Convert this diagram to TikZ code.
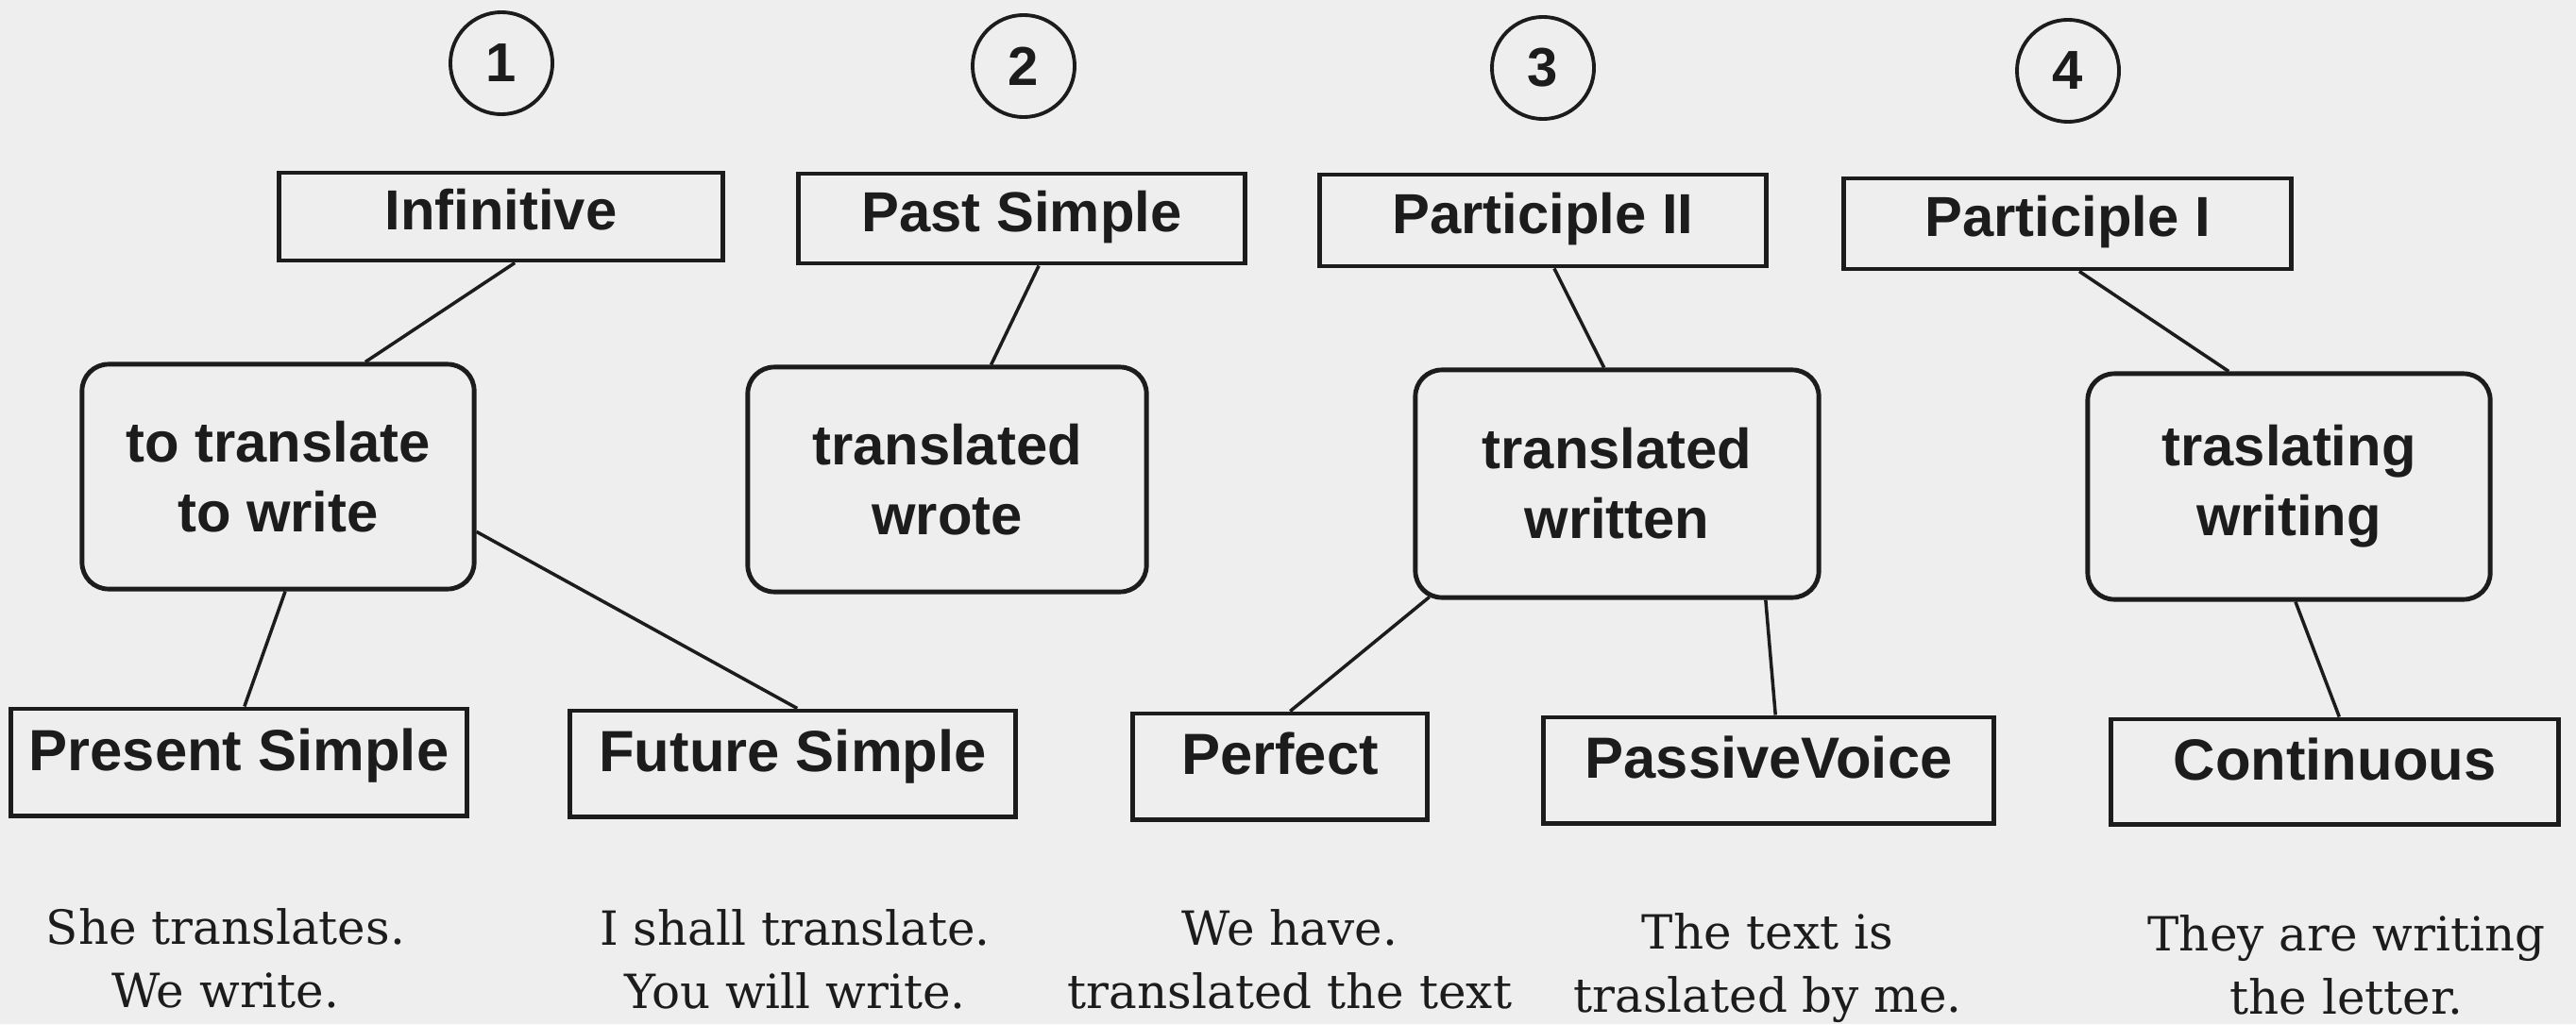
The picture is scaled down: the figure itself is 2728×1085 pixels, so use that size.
\documentclass[tikz,border=0pt]{standalone}
\usepackage{fontspec}
\setsansfont{Liberation Sans}
\newfontfamily\capfont{DejaVu Serif}
\usetikzlibrary{calc}
\definecolor{paper}{HTML}{EEEEEE}
\definecolor{ink}{HTML}{1C1C1C}
\begin{document}
\begin{tikzpicture}[x=0.01cm,y=-0.01cm,
  lab/.style={font=\sffamily\bfseries\fontsize{17}{21}\selectfont, text=ink, inner sep=0pt},
  topbox/.style={lab, draw=ink, line width=1.4pt, rectangle, text height=0.43cm, text depth=0.16cm},
  botbox/.style={lab, font=\sffamily\bfseries\fontsize{17.5}{21}\selectfont, draw=ink, line width=1.4pt, rectangle, text height=0.45cm, text depth=0.28cm},
  midbox/.style={lab, draw=ink, line width=1.4pt, rectangle, rounded corners=0.28cm, align=center},
  numcirc/.style={circle, draw=ink, line width=1.1pt, minimum size=1.08cm, inner sep=0pt, text=ink, font=\sffamily\bfseries\fontsize{16.5}{18}\selectfont},
  conn/.style={draw=ink, line width=1pt},
  captext/.style={font=\capfont\fontsize{14.2}{19}\selectfont, text=ink, align=center, inner sep=0pt, anchor=north}]
\fill[paper] (0,0) rectangle (2728,1085);
\useasboundingbox (0,0) rectangle (2728,1085);

% numbered circles
\node[numcirc] (c1) at (531,67) {1};
\node[numcirc] (c2) at (1084,70) {2};
\node[numcirc] (c3) at (1634,72) {3};
\node[numcirc] (c4) at (2190,75) {4};

% top boxes
\node[topbox, minimum width=4.69cm, minimum height=0.93cm] (inf) at (530.5,229.5) {Infinitive};
\node[topbox, minimum width=4.72cm, minimum height=0.95cm] (past) at (1082,231.5) {Past Simple};
\node[topbox, minimum width=4.72cm, minimum height=0.97cm] (p2) at (1634,233.5) {Participle II};
\node[topbox, minimum width=4.73cm, minimum height=0.96cm] (p1) at (2189.5,237) {Participle I};

% middle boxes
\node[midbox, minimum width=4.15cm, minimum height=2.38cm] (m1) at (294.5,505) {to translate\\to write};
\node[midbox, minimum width=4.22cm, minimum height=2.38cm] (m2) at (1003,508) {translated\\wrote};
\node[midbox, minimum width=4.27cm, minimum height=2.41cm] (m3) at (1712.5,512.5) {translated\\written};
\node[midbox, minimum width=4.26cm, minimum height=2.39cm] (m4) at (2424,515.5) {traslating\\writing};

% bottom boxes
\node[botbox, minimum width=4.82cm, minimum height=1.13cm] (ps) at (253,807.5) {Present Simple};
\node[botbox, minimum width=4.71cm, minimum height=1.12cm] (fs) at (839.5,809) {Future Simple};
\node[botbox, minimum width=3.11cm, minimum height=1.12cm] (pf) at (1355.5,812) {Perfect};
\node[botbox, minimum width=4.76cm, minimum height=1.12cm] (pv) at (1873,816) {PassiveVoice};
\node[botbox, minimum width=4.73cm, minimum height=1.11cm] (co) at (2472.5,817.5) {Continuous};

% connectors
\draw[conn] ($(inf.south west)!0.531!(inf.south east)$) -- ($(m1.north west)!0.720!(m1.north east)$);
\draw[conn] ($(past.south west)!0.538!(past.south east)$) -- ($(m2.north west)!0.609!(m2.north east)$);
\draw[conn] ($(p2.south west)!0.525!(p2.south east)$) -- ($(m3.north west)!0.468!(m3.north east)$);
\draw[conn] ($(p1.south west)!0.526!(p1.south east)$) -- ($(m4.north west)!0.352!(m4.north east)$);
\draw[conn] ($(m1.south west)!0.518!(m1.south east)$) -- ($(ps.north west)!0.512!(ps.north east)$);
\draw[conn] ($(m1.north east)!0.74!(m1.south east)$) -- ($(fs.north west)!0.510!(fs.north east)$);
\draw[conn] ($(m3.south west)!0.04!(m3.south east)+(0,-3)$) -- ($(pf.north west)!0.534!(pf.north east)$);
\draw[conn] ($(m3.south west)!0.864!(m3.south east)$) -- ($(pv.north west)!0.515!(pv.north east)$);
\draw[conn] ($(m4.south west)!0.516!(m4.south east)$) -- ($(co.north west)!0.510!(co.north east)$);

% example sentences
\node[captext] (t1) at (239,962) {She translates.\\We write.};
\node[captext] (t2) at (842,963) {I shall translate.\\You will write.};
\node[captext] (t3) at (1366,963) {We have.\\translated the text};
\node[captext] (t4) at (1872,967) {The text is\\traslated by me.};
\node[captext] (t5) at (2485,969) {They are writing\\the letter.};
\end{tikzpicture}
\end{document}
